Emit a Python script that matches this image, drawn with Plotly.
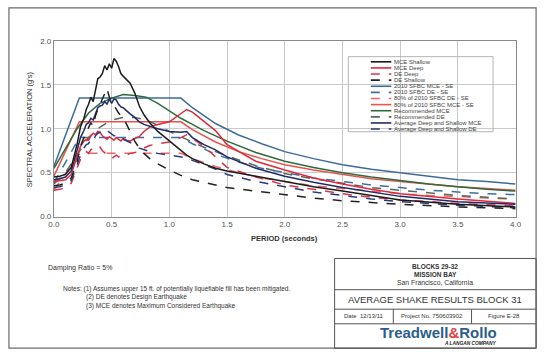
import plotly.graph_objects as go

W, H = 546, 360
FONT = "Liberation Sans, Arial, sans-serif"

# ---------------- data ----------------
periods = [0.0, 0.05, 0.1, 0.15, 0.2, 0.23, 0.26, 0.28, 0.3, 0.32, 0.34, 0.36, 0.38, 0.4, 0.42,
           0.44, 0.46, 0.48, 0.5, 0.52, 0.54, 0.56, 0.58, 0.6, 0.63, 0.66, 0.7, 0.74, 0.78, 0.83,
           0.9, 1.0, 1.1, 1.15, 1.2, 1.3, 1.4, 1.5, 1.75, 2.0, 2.25, 2.5, 2.75, 3.0, 3.5, 4.0]

mce_shallow = [0.45, 0.46, 0.48, 0.56, 0.82, 1.02, 1.12, 1.22, 1.28, 1.36, 1.31, 1.46, 1.57, 1.59, 1.63,
               1.72, 1.67, 1.74, 1.69, 1.80, 1.77, 1.71, 1.63, 1.60, 1.56, 1.52, 1.41, 1.26, 1.16, 1.07,
               0.97, 0.86, 0.75, 0.70, 0.66, 0.60, 0.55, 0.52, 0.46, 0.40, 0.34, 0.29, 0.24, 0.19, 0.14, 0.11]
mce_deep = [0.40, 0.41, 0.42, 0.48, 0.68, 0.80, 0.86, 0.88, 0.87, 0.92, 0.95, 0.93, 0.97, 0.96, 0.92,
            0.90, 0.88, 0.91, 0.89, 0.87, 0.90, 0.88, 0.86, 0.89, 0.87, 0.86, 0.89, 0.91, 0.97, 1.02,
            1.05, 1.08, 1.17, 1.22, 1.19, 1.08, 0.98, 0.82, 0.63, 0.53, 0.44, 0.37, 0.31, 0.26, 0.20, 0.15]
de_deep = [0.30, 0.31, 0.33, 0.38, 0.55, 0.65, 0.71, 0.74, 0.72, 0.76, 0.78, 0.77, 0.80, 0.79, 0.75,
           0.73, 0.70, 0.68, 0.66, 0.68, 0.70, 0.68, 0.69, 0.71, 0.70, 0.72, 0.73, 0.74, 0.78, 0.81,
           0.83, 0.85, 0.90, 0.93, 0.89, 0.80, 0.68, 0.56, 0.45, 0.36, 0.31, 0.26, 0.22, 0.19, 0.15, 0.12]
de_shallow = [0.35, 0.36, 0.38, 0.44, 0.62, 0.80, 0.90, 0.96, 1.00, 1.07, 1.03, 1.15, 1.22, 1.28, 1.36,
              1.42, 1.46, 1.36, 1.30, 1.27, 1.22, 1.18, 1.15, 1.12, 1.05, 0.97, 0.86, 0.78, 0.72, 0.66,
              0.60, 0.53, 0.47, 0.44, 0.42, 0.39, 0.36, 0.33, 0.29, 0.25, 0.21, 0.18, 0.16, 0.14, 0.11, 0.09]
avg_mce = [0.42, 0.43, 0.45, 0.52, 0.75, 0.90, 0.98, 1.05, 1.07, 1.12, 1.10, 1.17, 1.24, 1.26, 1.27,
           1.31, 1.28, 1.34, 1.29, 1.34, 1.33, 1.28, 1.25, 1.24, 1.20, 1.17, 1.13, 1.08, 1.05, 1.03,
           1.00, 0.97, 0.96, 0.97, 0.90, 0.82, 0.76, 0.68, 0.55, 0.46, 0.39, 0.33, 0.28, 0.23, 0.17, 0.14]
avg_de = [0.33, 0.34, 0.36, 0.41, 0.58, 0.70, 0.78, 0.82, 0.83, 0.88, 0.86, 0.92, 0.95, 0.96, 0.98,
          1.00, 0.98, 0.96, 0.93, 0.92, 0.92, 0.90, 0.88, 0.88, 0.86, 0.84, 0.82, 0.78, 0.76, 0.74,
          0.72, 0.70, 0.68, 0.67, 0.64, 0.59, 0.54, 0.48, 0.40, 0.34, 0.28, 0.24, 0.20, 0.17, 0.13, 0.10]

code_periods = [0.0, 0.22, 1.1, 1.2, 1.4, 1.6, 1.8, 2.0, 2.25, 2.5, 2.75, 3.0, 3.25, 3.5, 3.75, 4.0]
sfbc_mce = [0.57, 1.35, 1.35, 1.24, 1.06, 0.93, 0.83, 0.74, 0.66, 0.59, 0.54, 0.50, 0.46, 0.42, 0.40, 0.37]
sfbc_de = [0.38, 0.90, 0.90, 0.83, 0.71, 0.62, 0.55, 0.50, 0.44, 0.40, 0.36, 0.33, 0.30, 0.28, 0.26, 0.25]
sfbc80_de = [0.30, 0.72, 0.72, 0.66, 0.57, 0.50, 0.44, 0.40, 0.35, 0.32, 0.29, 0.26, 0.24, 0.23, 0.21, 0.20]
sfbc80_mce = [0.46, 1.08, 1.08, 0.99, 0.85, 0.74, 0.66, 0.59, 0.53, 0.48, 0.43, 0.40, 0.37, 0.34, 0.32, 0.30]

rec_periods = [0.0, 0.1, 0.2, 0.3, 0.4, 0.5, 0.6, 0.7, 0.8, 0.9, 1.0, 1.1, 1.2, 1.3, 1.4, 1.5,
               1.75, 2.0, 2.25, 2.5, 2.75, 3.0, 3.25, 3.5, 3.75, 4.0]
rec_mce = [0.55, 0.78, 1.00, 1.18, 1.29, 1.35, 1.39, 1.38, 1.36, 1.29, 1.20, 1.12, 1.05, 0.98, 0.92, 0.86,
           0.73, 0.63, 0.56, 0.50, 0.45, 0.41, 0.37, 0.34, 0.31, 0.29]
rec_de = [0.37, 0.50, 0.70, 0.90, 1.02, 1.10, 1.13, 1.13, 1.10, 1.04, 0.97, 0.91, 0.85, 0.79, 0.74, 0.69,
          0.58, 0.49, 0.43, 0.38, 0.33, 0.30, 0.27, 0.24, 0.22, 0.20]

x_ticks = [0.0, 0.5, 1.0, 1.5, 2.0, 2.5, 3.0, 3.5, 4.0]
y_ticks = [0.0, 0.5, 1.0, 1.5, 2.0]

# (legend name, x, y, color, dash) in legend order
series = [
    ("MCE Shallow", periods, mce_shallow, "#1c1c1c", "solid"),
    ("MCE Deep", periods, mce_deep, "#e02a3c", "solid"),
    ("DE Deep", periods, de_deep, "#d93448", "dash"),
    ("DE Shallow", periods, de_shallow, "#222222", "dash"),
    ("2010 SFBC MCE - SE", code_periods, sfbc_mce, "#3b6c99", "solid"),
    ("2010 SFBC DE - SE", code_periods, sfbc_de, "#3a70a4", "dash"),
    ("80% of 2010 SFBC DE - SE", code_periods, sfbc80_de, "#f2646a", "dash"),
    ("80% of 2010 SFBC MCE - SE", code_periods, sfbc80_mce, "#e9534e", "solid"),
    ("Recommended MCE", rec_periods, rec_mce, "#2f6b3f", "solid"),
    ("Recommended DE", rec_periods, rec_de, "#56685a", "dash"),
    ("Average Deep and Shallow MCE", periods, avg_mce, "#232a66", "solid"),
    ("Average Deep and Shallow DE", periods, avg_de, "#2b3a7c", "dash"),
]

# ---------------- figure ----------------
def px(x):
    return x / W

def py(y):
    return 1 - y / H

fig = go.Figure()
draw_order = [4, 5, 6, 7, 8, 9, 1, 2, 10, 11, 3, 0]
for i in draw_order:
    name, xs, ys, col, dash = series[i]
    fig.add_trace(go.Scatter(x=xs, y=ys, mode="lines", name=name, showlegend=False,
                             line=dict(color=col, width=1.5, dash=dash)))

PL, PR, PT, PB = 49, 521, 38, 218
axis_common = dict(showgrid=True, gridcolor="#c9c9c9", gridwidth=1, zeroline=False,
                   showline=True, linecolor="#8a8a8a", linewidth=1, mirror=True,
                   ticks="", tickfont=dict(family=FONT, size=8, color="#555555"))
fig.update_xaxes(range=[0, 4], domain=[px(PL), px(PR)], tickvals=x_ticks,
                 ticktext=[f"{v:.1f}" for v in x_ticks], **axis_common)
fig.update_yaxes(range=[0, 2], domain=[py(PB), py(PT)], tickvals=y_ticks,
                 ticktext=[f"{v:.1f}" for v in y_ticks], **axis_common)

shapes = []
annos = []

def rect(x0, y0, x1, y1, color="#555555", w=1):
    shapes.append(dict(type="rect", xref="paper", yref="paper", x0=px(x0), x1=px(x1),
                       y0=py(y1), y1=py(y0), line=dict(color=color, width=w)))

def hline(x0, x1, y, color="#555555", w=1):
    shapes.append(dict(type="line", xref="paper", yref="paper", x0=px(x0), x1=px(x1),
                       y0=py(y), y1=py(y), line=dict(color=color, width=w)))

def vline(x, y0, y1, color="#555555", w=1):
    shapes.append(dict(type="line", xref="paper", yref="paper", x0=px(x), x1=px(x),
                       y0=py(y0), y1=py(y1), line=dict(color=color, width=w)))

def text(x, y, s, size=7, color="#333333", xanchor="left", bold=False, italic=False, family=FONT, angle=0):
    if bold:
        s = f"<b>{s}</b>"
    if italic:
        s = f"<i>{s}</i>"
    annos.append(dict(x=px(x), y=py(y), xref="paper", yref="paper", text=s, showarrow=False,
                      xanchor=xanchor, yanchor="middle", textangle=angle, borderpad=0,
                      font=dict(family=family, size=size, color=color)))

# page frame
rect(3, 4, 542, 353, color="#6a6a6a", w=1.2)

# axis titles
text(24, 128, "SPECTRAL ACCELERATION (g's)", size=7.5, color="#333333", xanchor="center", angle=-90)
text(285, 240, "PERIOD (seconds)", size=7.5, color="#333333", xanchor="center", bold=True)

# legend
rect(350, 54, 498, 131, color="#b5b5b5", w=1)
for k, (name, xs, ys, col, dash) in enumerate(series):
    yy = 59.3 + k * 6.27
    shapes.append(dict(type="line", xref="paper", yref="paper", x0=px(373), x1=px(394),
                       y0=py(yy), y1=py(yy), line=dict(color=col, width=1.6, dash=dash)))
    text(396, yy, name, size=6, color="#444444")

# notes
text(42, 271, "Damping Ratio = 5%", size=7, color="#333333")
text(57, 292.5, "Notes: (1) Assumes upper 15 ft. of potentially liquefiable fill has been mitigated.",
     size=6.5, color="#333333")
text(81, 301, "(2) DE denotes Design Earthquake", size=6.5, color="#333333")
text(81, 309.5, "(3) MCE denotes Maximum Considered Earthquake", size=6.5, color="#333333")

# title block
rect(336, 261, 542, 353, color="#555555", w=1)
hline(336, 542, 293)
hline(336, 542, 313)
hline(336, 542, 328)
vline(396, 313, 328)
vline(476, 313, 328)
text(439, 269, "BLOCKS 29-32", size=6.5, color="#333333", xanchor="center", bold=True)
text(439, 277.5, "MISSION BAY", size=6.5, color="#333333", xanchor="center", bold=True)
text(439, 286, "San Francisco, California", size=6.8, color="#333333", xanchor="center")
text(439, 303, "AVERAGE SHAKE RESULTS BLOCK 31", size=9.5, color="#333333", xanchor="center")
text(366, 320.5, "Date  12/13/11", size=6, color="#333333", xanchor="center")
text(436, 320.5, "Project No. 750603902", size=6, color="#333333", xanchor="center")
text(509, 320.5, "Figure E-28", size=6, color="#333333", xanchor="center")
text(442, 337, "<span style='color:#2b5e8c'>Treadwell</span><span style='color:#e0433f'>&amp;</span>"
     "<span style='color:#2b5e8c'>Rollo</span>", size=15, xanchor="center", bold=True)
text(474, 348.5, "A LANGAN COMPANY", size=4.8, color="#222222", xanchor="center", bold=True, italic=True)

fig.update_layout(width=W, height=H, autosize=False, margin=dict(l=0, r=0, t=0, b=0),
                  paper_bgcolor="white", plot_bgcolor="white", showlegend=False,
                  shapes=shapes, annotations=annos)

fig.write_html("out.html", config={"displayModeBar": False},
               post_script="document.body.style.margin='0';document.body.style.overflow='hidden';")
